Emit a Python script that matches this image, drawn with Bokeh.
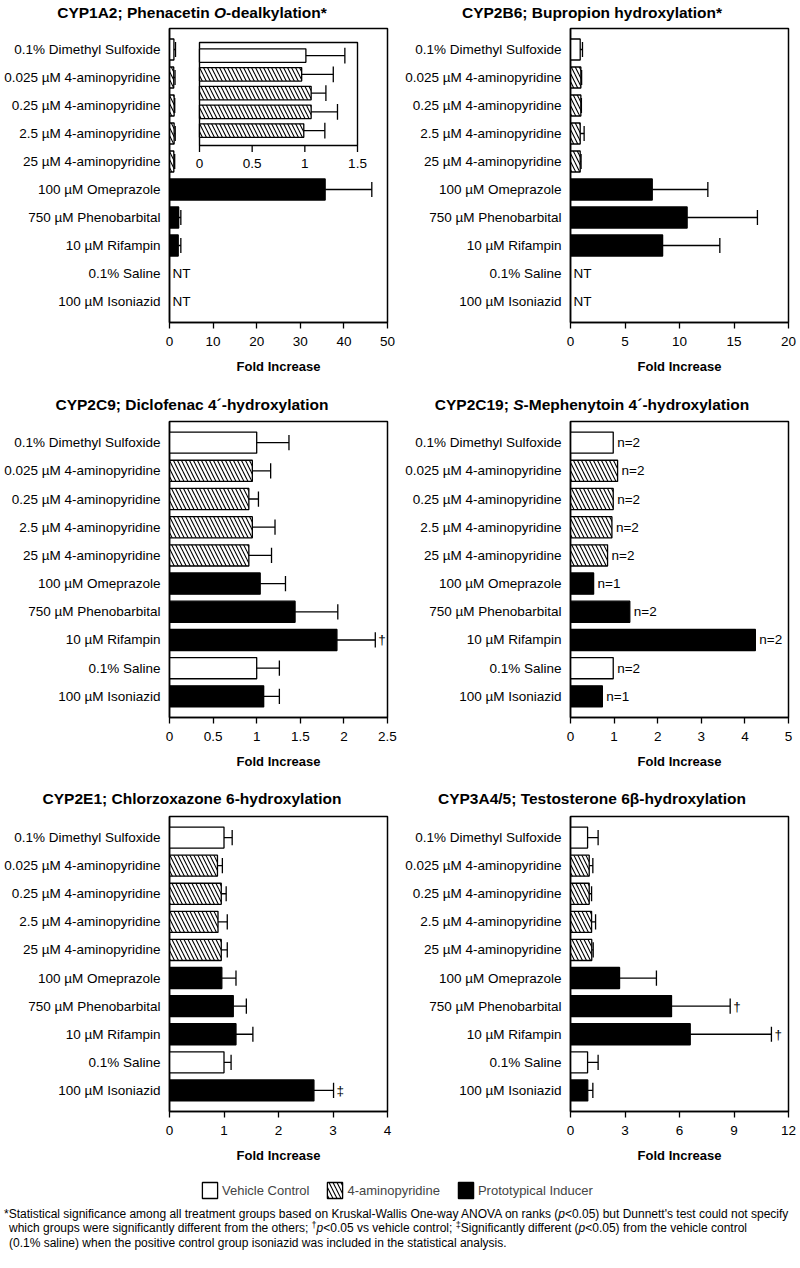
from bokeh.plotting import figure
from bokeh.models import Range1d, FixedTicker, Div, Legend, LegendItem, ColumnDataSource
from bokeh.layouts import column, row
from bokeh.core.properties import value
from bokeh.embed import file_html
from bokeh.resources import INLINE

FONT = "Liberation Sans"

# ---------------- data ----------------
treatments = [
    "0.1% Dimethyl Sulfoxide",
    "0.025 µM 4-aminopyridine",
    "0.25 µM 4-aminopyridine",
    "2.5 µM 4-aminopyridine",
    "25 µM 4-aminopyridine",
    "100 µM Omeprazole",
    "750 µM Phenobarbital",
    "10 µM Rifampin",
    "0.1% Saline",
    "100 µM Isoniazid",
]
groups = ["vehicle", "4ap", "4ap", "4ap", "4ap",
          "inducer", "inducer", "inducer", "vehicle", "inducer"]

# CYP1A2 (None = not tested)
cyp1a2_mean = [1.01, 0.97, 1.06, 1.06, 0.99, 35.7, 2.1, 2.0, None, None]
cyp1a2_upper = [1.38, 1.27, 1.20, 1.31, 1.19, 46.4, 2.6, 2.6, None, None]
# inset of the first five groups
inset_mean = cyp1a2_mean[:5]
inset_upper = cyp1a2_upper[:5]
inset_ticks = [0, 0.5, 1, 1.5]
inset_tick_labels = ["0", "0.5", "1", "1.5"]

cyp2b6_mean = [0.89, 0.95, 0.95, 0.89, 0.89, 7.5, 10.7, 8.45, None, None]
cyp2b6_upper = [1.1, 1.02, 1.0, 1.25, 0.97, 12.6, 17.15, 13.7, None, None]

cyp2c9_mean = [1.0, 0.95, 0.91, 0.95, 0.91, 1.04, 1.44, 1.92, 1.0, 1.08]
cyp2c9_upper = [1.37, 1.16, 1.02, 1.21, 1.17, 1.33, 1.93, 2.36, 1.26, 1.26]
cyp2c9_marks = ["", "", "", "", "", "", "", "†", "", ""]

cyp2c19_mean = [0.98, 1.08, 0.98, 0.95, 0.85, 0.53, 1.36, 4.24, 0.98, 0.73]
cyp2c19_n = ["n=2", "n=2", "n=2", "n=2", "n=2", "n=1", "n=2", "n=2", "n=2", "n=1"]

cyp2e1_mean = [1.0, 0.88, 0.95, 0.89, 0.95, 0.96, 1.17, 1.22, 1.0, 2.65]
cyp2e1_upper = [1.15, 0.97, 1.04, 1.06, 1.06, 1.22, 1.41, 1.53, 1.13, 3.01]
cyp2e1_marks = ["", "", "", "", "", "", "", "", "", "‡"]

cyp3a4_mean = [0.94, 1.03, 1.03, 1.16, 1.17, 2.7, 5.56, 6.59, 0.94, 0.95]
cyp3a4_upper = [1.52, 1.23, 1.16, 1.38, 1.25, 4.73, 8.79, 11.06, 1.52, 1.23]
cyp3a4_marks = ["", "", "", "", "", "", "†", "†", "", ""]

ticks_1a2 = [0, 10, 20, 30, 40, 50]
ticks_2b6 = [0, 5, 10, 15, 20]
ticks_2c9 = [0, 0.5, 1, 1.5, 2, 2.5]
labels_2c9 = ["0", "0.5", "1", "1.5", "2", "2.5"]
ticks_2c19 = [0, 1, 2, 3, 4, 5]
ticks_2e1 = [0, 1, 2, 3, 4]
ticks_3a4 = [0, 3, 6, 9, 12]

titles = [
    "CYP1A2; Phenacetin <i>O</i>-dealkylation*",
    "CYP2B6; Bupropion hydroxylation*",
    "CYP2C9; Diclofenac 4´-hydroxylation",
    "CYP2C19; <i>S</i>-Mephenytoin 4´-hydroxylation",
    "CYP2E1; Chlorzoxazone 6-hydroxylation",
    "CYP3A4/5; Testosterone 6β-hydroxylation",
]

FILL = {"vehicle": "white", "4ap": "white", "inducer": "black"}
HATCH = {"vehicle": " ", "4ap": "left_diagonal_line", "inducer": " "}

# page rows: title strip height, border above frame, frame height, border below frame
ROW1 = dict(title_h=26, top=2, frame=294, bottom=73)
ROW2 = dict(title_h=20, top=6, frame=296, bottom=72)
ROW3 = dict(title_h=20, top=7, frame=295, bottom=59)


def bar_source(mean, upper=None, notes=None, cap=0.27):
    d = dict(y=[], mean=[], upper=[], fill=[], hatch=[], note=[])
    for i, m in enumerate(mean):
        if m is None:
            continue
        d["y"].append(i)
        d["mean"].append(m)
        d["upper"].append(upper[i] if upper else m)
        d["fill"].append(FILL[groups[i]])
        d["hatch"].append(HATCH[groups[i]])
        d["note"].append(notes[i] if notes else "")
    d["cap0"] = [y - cap for y in d["y"]]
    d["cap1"] = [y + cap for y in d["y"]]
    return ColumnDataSource(d)


def draw_bars(target, src, height, with_err=True):
    target.hbar(y="y", left=0, right="mean", height=height, source=src,
                fill_color="fill", line_color="black", line_width=1.3,
                hatch_pattern="hatch", hatch_color="black", hatch_scale=8, hatch_weight=1.1)
    if with_err:
        target.segment(x0="mean", x1="upper", y0="y", y1="y", source=src,
                       line_color="black", line_width=1.3)
        target.segment(x0="upper", x1="upper", y0="cap0", y1="cap1", source=src,
                       line_color="black", line_width=1.3)


def make_panel(rows, left_side, x_max, ticks, tick_labels):
    p = figure(frame_width=218, frame_height=rows["frame"],
               min_border_left=169 if left_side else 170,
               min_border_right=13 if left_side else 12,
               min_border_top=rows["top"], min_border_bottom=rows["bottom"],
               x_range=Range1d(0, x_max), y_range=Range1d(9.75, -0.75),
               output_backend="svg", toolbar_location=None)
    p.xgrid.visible = False
    p.ygrid.visible = False
    p.outline_line_color = "black"
    p.outline_line_width = 1.5
    p.outline_line_alpha = 1

    p.xaxis.ticker = FixedTicker(ticks=ticks)
    p.xaxis.major_label_overrides = {t: l for t, l in zip(ticks, tick_labels)}
    p.yaxis.ticker = FixedTicker(ticks=list(range(len(treatments))))
    p.yaxis.major_label_overrides = {i: t for i, t in enumerate(treatments)}
    p.axis.axis_line_width = 1.5
    p.axis.axis_line_color = "black"
    p.axis.major_label_text_font = FONT
    p.axis.major_label_text_color = "black"
    p.axis.minor_tick_line_color = None
    p.xaxis.major_tick_out = 6
    p.xaxis.major_tick_in = 0
    p.xaxis.major_tick_line_width = 1.3
    p.xaxis.major_label_text_font_size = "13.5px"
    p.xaxis.major_label_standoff = 8
    p.yaxis.major_tick_line_color = None
    p.yaxis.major_tick_out = 0
    p.yaxis.major_tick_in = 0
    p.yaxis.major_label_standoff = 9
    p.yaxis.major_label_text_font_size = "13.5px"
    p.xaxis.axis_label = "Fold Increase"
    p.xaxis.axis_label_text_font = FONT
    p.xaxis.axis_label_text_font_size = "13px"
    p.xaxis.axis_label_text_font_style = "bold"
    p.xaxis.axis_label_text_color = "black"
    p.xaxis.axis_label_standoff = 10
    return p


def panel_text(p, x, y, txt, x_offset, source=None):
    kw = dict(x=x, y=y, text=txt, x_offset=x_offset, text_baseline="middle",
              text_align="left", text_font=value(FONT), text_font_size="13.5px",
              text_color="black")
    if source is not None:
        kw["source"] = source
    p.text(**kw)


def titled(p, title, rows):
    d = Div(text=title, width=384, height=rows["title_h"], margin=(0, 0, 0, 0),
            styles={"font-family": FONT, "font-weight": "bold", "font-size": "15.5px",
                    "text-align": "center", "line-height": "%dpx" % rows["title_h"],
                    "color": "black", "white-space": "nowrap"})
    return column(d, p, spacing=0)


# ---- CYP1A2 with inset ----
p1 = make_panel(ROW1, True, 50, ticks_1a2, [str(t) for t in ticks_1a2])
draw_bars(p1, bar_source(cyp1a2_mean, cyp1a2_upper), 0.75)
nt_rows = [i for i, m in enumerate(cyp1a2_mean) if m is None]
panel_text(p1, [0] * len(nt_rows), nt_rows, ["NT"] * len(nt_rows), 3)

sub = p1.subplot(x_source=Range1d(0, 1.5), y_source=Range1d(4.8, -0.7),
                 x_target=Range1d(6.88, 43.12), y_target=Range1d(3.43, -0.25))
sub.quad(left=0, right=1.5, top=-0.7, bottom=4.8, fill_color="white",
         line_color="black", line_width=1.4)
draw_bars(sub, bar_source(inset_mean, inset_upper, cap=0.42), 0.72)
sub.segment(x0=inset_ticks, x1=inset_ticks, y0=[4.8] * 4, y1=[5.15] * 4,
            line_color="black", line_width=1.3)
sub.text(x=inset_ticks, y=[5.15] * 4, text=inset_tick_labels, y_offset=7,
         text_align="center", text_baseline="top", text_font=value(FONT),
         text_font_size="13.5px", text_color="black")

# ---- CYP2B6 ----
p2 = make_panel(ROW1, False, 20, ticks_2b6, [str(t) for t in ticks_2b6])
draw_bars(p2, bar_source(cyp2b6_mean, cyp2b6_upper), 0.75)
nt_rows = [i for i, m in enumerate(cyp2b6_mean) if m is None]
panel_text(p2, [0] * len(nt_rows), nt_rows, ["NT"] * len(nt_rows), 3)

# ---- CYP2C9 ----
p3 = make_panel(ROW2, True, 2.5, ticks_2c9, labels_2c9)
s3 = bar_source(cyp2c9_mean, cyp2c9_upper, cyp2c9_marks)
draw_bars(p3, s3, 0.75)
panel_text(p3, "upper", "y", "note", 3, s3)

# ---- CYP2C19 ----
p4 = make_panel(ROW2, False, 5, ticks_2c19, [str(t) for t in ticks_2c19])
s4 = bar_source(cyp2c19_mean, None, cyp2c19_n)
draw_bars(p4, s4, 0.75, with_err=False)
panel_text(p4, "mean", "y", "note", 4, s4)

# ---- CYP2E1 ----
p5 = make_panel(ROW3, True, 4, ticks_2e1, [str(t) for t in ticks_2e1])
s5 = bar_source(cyp2e1_mean, cyp2e1_upper, cyp2e1_marks)
draw_bars(p5, s5, 0.75)
panel_text(p5, "upper", "y", "note", 3, s5)

# ---- CYP3A4/5 ----
p6 = make_panel(ROW3, False, 12, ticks_3a4, [str(t) for t in ticks_3a4])
s6 = bar_source(cyp3a4_mean, cyp3a4_upper, cyp3a4_marks)
draw_bars(p6, s6, 0.75)
panel_text(p6, "upper", "y", "note", 3, s6)

# ---- legend strip ----
leg = figure(width=800, height=35, output_backend="svg", toolbar_location=None,
             min_border=0, x_axis_type=None, y_axis_type=None)
leg.outline_line_color = None
leg.xgrid.visible = False
leg.ygrid.visible = False
r_veh = leg.hbar(y=[0], right=[1], height=0.5, fill_color="white", line_color="black",
                 line_width=1.3, visible=False)
r_4ap = leg.hbar(y=[0], right=[1], height=0.5, fill_color="white", line_color="black",
                 line_width=1.3, hatch_pattern="left_diagonal_line", hatch_color="black",
                 hatch_scale=8, hatch_weight=1.1, visible=False)
r_ind = leg.hbar(y=[0], right=[1], height=0.5, fill_color="black", line_color="black",
                 line_width=1.3, visible=False)
legend = Legend(items=[LegendItem(label="Vehicle Control", renderers=[r_veh]),
                       LegendItem(label="4-aminopyridine", renderers=[r_4ap]),
                       LegendItem(label="Prototypical Inducer", renderers=[r_ind])],
                orientation="horizontal", location=(200, 5), padding=0, margin=0,
                spacing=16, glyph_width=19, glyph_height=20, label_standoff=3,
                label_text_font=FONT, label_text_font_size="13px", label_height=20,
                border_line_color=None, background_fill_alpha=0)
leg.add_layout(legend, "center")

SUP = "<span style='position:relative; top:-0.45em; font-size:75%'>{}</span>"
foot = Div(text=("<div>*Statistical significance among all treatment groups based on Kruskal-Wallis "
                 "One-way ANOVA on ranks (<i>p</i>&lt;0.05) but Dunnett's test could not specify</div>"
                 "<div style='padding-left:5px'>which groups were significantly different from the others; "
                 + SUP.format("†") + "<i>p</i>&lt;0.05 vs vehicle control; " + SUP.format("‡")
                 + "Significantly different (<i>p</i>&lt;0.05) from the vehicle control</div>"
                 "<div style='padding-left:5px'>(0.1% saline) when the positive control group isoniazid "
                 "was included in the statistical analysis.</div>"),
           width=795, height=47, margin=(0, 0, 0, 0),
           styles={"font-family": FONT, "font-size": "12px", "line-height": "14px",
                   "color": "black", "padding-top": "2px", "padding-left": "4px",
                   "white-space": "nowrap"})

layout = column(
    row(titled(p1, titles[0], ROW1), titled(p2, titles[1], ROW1), spacing=0),
    row(titled(p3, titles[2], ROW2), titled(p4, titles[3], ROW2), spacing=0),
    row(titled(p5, titles[4], ROW3), titled(p6, titles[5], ROW3), spacing=0),
    leg, foot, spacing=0)

open("out.html", "w").write(file_html(layout, INLINE))
